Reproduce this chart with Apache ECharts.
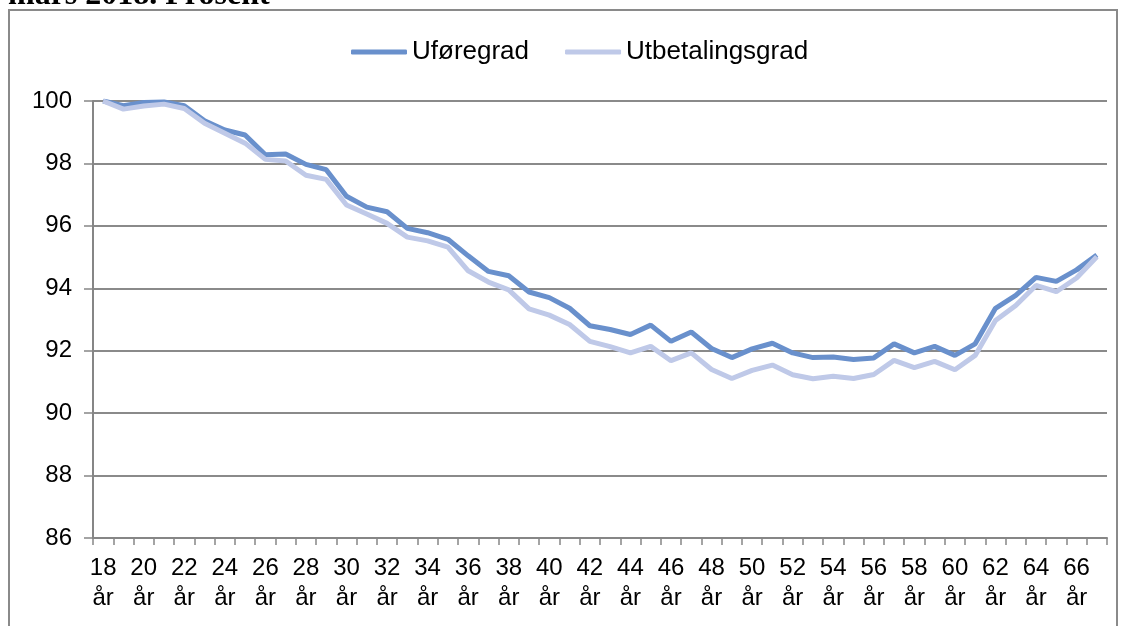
<!DOCTYPE html>
<html>
<head>
<meta charset="utf-8">
<script src="https://cdn.jsdelivr.net/npm/echarts@6/dist/echarts.min.js"></script>
<style>
html,body{margin:0;padding:0;background:#fff;}
#chart{width:1125px;height:626px;}
</style>
</head>
<body>
<div id="chart"></div>
<script>
// alder 18..67 år
var ages = [];
for (var a = 18; a <= 67; a++) { ages.push(a + '\når'); }

var uforegrad = [
	100.0, 99.85, 99.95, 99.97, 99.85, 99.37, 99.07, 98.91, 98.28, 98.3,
	97.97, 97.8, 96.95, 96.6, 96.45, 95.92, 95.78, 95.57, 95.04, 94.54,
	94.4, 93.88, 93.7, 93.36, 92.8, 92.68, 92.52, 92.82, 92.3, 92.6,
	92.07, 91.78, 92.06, 92.24, 91.93, 91.78, 91.8, 91.72, 91.77, 92.22,
	91.93, 92.14, 91.85, 92.22, 93.36, 93.77, 94.35, 94.22, 94.59, 95.07
];
var utbetalingsgrad = [
	100.0, 99.74, 99.84, 99.9, 99.76, 99.29, 98.97, 98.65, 98.13, 98.08,
	97.62, 97.49, 96.67, 96.38, 96.08, 95.64, 95.52, 95.32, 94.56, 94.2,
	93.95, 93.34, 93.14, 92.84, 92.3, 92.13, 91.93, 92.14, 91.68, 91.93,
	91.4, 91.11, 91.37, 91.54, 91.23, 91.1, 91.18, 91.11, 91.24, 91.69,
	91.46, 91.66, 91.39, 91.85, 92.97, 93.45, 94.09, 93.89, 94.33, 95.01
];

var myChart = echarts.init(document.getElementById('chart'));
var option = {
	backgroundColor: '#fff',
	animation: false,
	textStyle: {
		fontFamily: 'Liberation Sans'
	},
	title: {
		text: 'mars 2018. Prosent',
		left: 3,
		top: -25,
		textStyle: {
			fontFamily: 'Liberation Serif',
			fontWeight: 'bold',
			fontSize: 32,
			color: '#000'
		}
	},
	graphic: [{
		type: 'rect',
		shape: { x: 9, y: 10, width: 1108, height: 640 },
		style: { fill: 'none', stroke: '#8a8a8a', lineWidth: 2 }
	}],
	legend: {
		left: 346,
		top: 34,
		icon: 'roundRect',
		itemWidth: 56,
		itemHeight: 5,
		itemGap: 36,
		data: ['Uføregrad', 'Utbetalingsgrad'],
		textStyle: {
			fontSize: 26,
			color: '#000',
			fontFamily: 'Liberation Sans'
		}
	},
	grid: {
		left: 93,
		right: 18,
		top: 101,
		bottom: 88
	},
	xAxis: {
		type: 'category',
		data: ages,
		boundaryGap: true,
		axisLine: { lineStyle: { color: '#868686', width: 2 } },
		axisTick: { show: true, length: 7, interval: 0, lineStyle: { color: '#868686', width: 1.5 } },
		axisLabel: {
			interval: 1,
			margin: 15,
			fontSize: 24,
			lineHeight: 30,
			color: '#000'
		}
	},
	yAxis: {
		type: 'value',
		min: 86,
		max: 100,
		interval: 2,
		axisLine: { show: true, lineStyle: { color: '#868686', width: 2 } },
		axisTick: { show: true, length: 9, lineStyle: { color: '#868686', width: 1.5 } },
		axisLabel: {
			margin: 21,
			fontSize: 24,
			color: '#000'
		},
		splitLine: { lineStyle: { color: '#8a8a8a', width: 2 } }
	},
	series: [{
		name: 'Uføregrad',
		type: 'line',
		data: uforegrad,
		symbol: 'none',
		lineStyle: { width: 5, color: '#6990cc' },
		itemStyle: { color: '#6990cc' }
	}, {
		name: 'Utbetalingsgrad',
		type: 'line',
		data: utbetalingsgrad,
		symbol: 'none',
		lineStyle: { width: 5, color: '#bfc9e8' },
		itemStyle: { color: '#bfc9e8' }
	}]
};
myChart.setOption(option);
</script>
</body>
</html>
